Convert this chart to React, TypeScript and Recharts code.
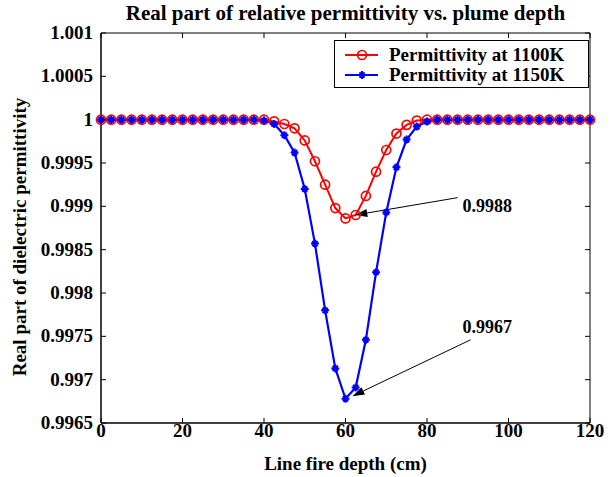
import {
    LineChart,
    Line,
    XAxis,
    YAxis,
    ReferenceArea,
    ReferenceLine,
} from "recharts";

const depth = [
    0, 2.5, 5, 7.5, 10, 12.5, 15, 17.5, 20, 22.5, 25, 27.5, 30, 32.5, 35, 37.5,
    40, 42.5, 45, 47.5, 50, 52.5, 55, 57.5, 60, 62.5, 65, 67.5, 70, 72.5, 75,
    77.5, 80, 82.5, 85, 87.5, 90, 92.5, 95, 97.5, 100, 102.5, 105, 107.5, 110,
    112.5, 115, 117.5, 120,
];

const perm1100 = [
    1, 1, 1, 1, 1, 1, 1, 1, 1, 1, 1, 1, 1, 1, 1, 1,
    1, 0.99998, 0.99995, 0.9999, 0.99976, 0.99952, 0.99925, 0.99898, 0.99886,
    0.9989, 0.99912, 0.9994, 0.99965, 0.99984, 0.99994, 0.99999,
    1, 1, 1, 1, 1, 1, 1, 1, 1, 1, 1, 1, 1, 1, 1, 1, 1,
];

const perm1150 = [
    1, 1, 1, 1, 1, 1, 1, 1, 1, 1, 1, 1, 1, 1, 1, 1,
    0.99999, 0.99995, 0.99982, 0.99962, 0.9992, 0.99857, 0.9978, 0.99713,
    0.99678, 0.99691, 0.99746, 0.99824, 0.99893, 0.99945, 0.99977, 0.99992,
    0.99998, 1, 1, 1, 1, 1, 1, 1, 1, 1, 1, 1, 1, 1, 1, 1, 1,
];

const xTicks = [0, 20, 40, 60, 80, 100, 120];
const yTicks = [
    0.9965, 0.997, 0.9975, 0.998, 0.9985, 0.999, 0.9995, 1, 1.0005, 1.001,
];
const yTickLabels = [
    "0.9965", "0.997", "0.9975", "0.998", "0.9985", "0.999", "0.9995", "1",
    "1.0005", "1.001",
];

// arrow annotations: label point, arrow tail and arrow head (on the curve)
const notes = [
    {
        text: "0.9988",
        at: { x: 88.7, y: 0.99894 },
        from: { x: 87.5, y: 0.9991 },
        to: { x: 62.4, y: 0.9989 },
    },
    {
        text: "0.9967",
        at: { x: 88.7, y: 0.99754 },
        from: { x: 90.7, y: 0.99746 },
        to: { x: 61.7, y: 0.99681 },
    },
];

const data = depth.map((d, i) => ({
    depth: d,
    k1100: perm1100[i],
    k1150: perm1150[i],
}));

const FONT = "'Liberation Serif', 'Times New Roman', serif";
const W = 616;
const H = 477;
const PLOT_TOP = 33;
const PLOT_LEFT = 101;
const PLOT_RIGHT = 590;
const PLOT_BOTTOM = 423;
const X_MAX = 120;
const Y_MIN = 0.9965;
const Y_MAX = 1.001;

// data -> pixel, only for the annotation labels
const px = (x: number) => PLOT_LEFT + (x / X_MAX) * (PLOT_RIGHT - PLOT_LEFT);
const py = (y: number) =>
    PLOT_TOP + ((Y_MAX - y) / (Y_MAX - Y_MIN)) * (PLOT_BOTTOM - PLOT_TOP);

function XTick(props: any) {
    const { x, payload } = props;
    return (
        <g>
            <line x1={x} y1={PLOT_BOTTOM} x2={x} y2={PLOT_BOTTOM - 5} stroke="#000" />
            <line x1={x} y1={PLOT_TOP} x2={x} y2={PLOT_TOP + 5} stroke="#000" />
            <text
                x={x}
                y={PLOT_BOTTOM + 14}
                textAnchor="middle"
                fontFamily={FONT}
                fontWeight="bold"
                fontSize={19}
            >
                {payload.value}
            </text>
        </g>
    );
}

function YTick(props: any) {
    const { y, payload, index } = props;
    return (
        <g>
            <line x1={PLOT_LEFT} y1={y} x2={PLOT_LEFT + 5} y2={y} stroke="#000" />
            <line x1={PLOT_RIGHT} y1={y} x2={PLOT_RIGHT - 5} y2={y} stroke="#000" />
            <text
                x={PLOT_LEFT - 8}
                y={y + 6}
                textAnchor="end"
                fontFamily={FONT}
                fontWeight="bold"
                fontSize={19}
            >
                {yTickLabels[index] ?? payload.value}
            </text>
        </g>
    );
}

function CircleDot(props: any) {
    const { cx, cy } = props;
    if (cx == null || cy == null) return null;
    return (
        <circle cx={cx} cy={cy} r={4.5} fill="none" stroke="#ff0000" strokeWidth={1.7} />
    );
}

function StarDot(props: any) {
    const { cx, cy } = props;
    if (cx == null || cy == null) return null;
    const a = 4;
    const b = 2.6;
    return (
        <path
            d={`M${cx - a},${cy}H${cx + a}M${cx},${cy - a}V${cy + a}M${cx - b},${cy - b}L${cx + b},${cy + b}M${cx - b},${cy + b}L${cx + b},${cy - b}`}
            stroke="#0000ff"
            strokeWidth={2}
            fill="none"
        />
    );
}

function Arrow(props: any, note: (typeof notes)[number]) {
    const { x1, y1, x2, y2 } = props;
    const ang = Math.atan2(y2 - y1, x2 - x1);
    const len = 12;
    const half = 4;
    const bx = x2 - len * Math.cos(ang);
    const by = y2 - len * Math.sin(ang);
    const ox = -Math.sin(ang) * half;
    const oy = Math.cos(ang) * half;
    return (
        <g>
            <line x1={x1} y1={y1} x2={bx} y2={by} stroke="#000" strokeWidth={1} />
            <polygon
                points={`${x2},${y2} ${bx + ox},${by + oy} ${bx - ox},${by - oy}`}
                fill="#000"
            />
            <text
                x={px(note.at.x)}
                y={py(note.at.y)}
                fontFamily={FONT}
                fontWeight="bold"
                fontSize={18}
            >
                {note.text}
            </text>
        </g>
    );
}

function LegendBox() {
    const rows = [
        { label: "Permittivity at 1100K", color: "#ff0000", dot: "circle" },
        { label: "Permittivity at 1150K", color: "#0000ff", dot: "star" },
    ];
    return (
        <div
            style={{
                position: "absolute",
                left: 334,
                top: 40,
                width: 255,
                height: 48,
                border: "1px solid #000",
                background: "#fff",
                boxSizing: "border-box",
                fontFamily: FONT,
                fontWeight: "bold",
                fontSize: 19,
                paddingTop: 4,
            }}
        >
            {rows.map((r) => (
                <div key={r.label} style={{ display: "flex", alignItems: "center", height: 20 }}>
                    <svg width={48} height={14} style={{ marginLeft: 6, flex: "none" }}>
                        <line x1={4} y1={7} x2={37} y2={7} stroke={r.color} strokeWidth={2} />
                        {r.dot === "circle" ? (
                            <circle cx={21} cy={7} r={4.5} fill="none" stroke={r.color} strokeWidth={1.7} />
                        ) : (
                            <path
                                d="M17,7H25M21,3V11M18.4,4.4L23.6,9.6M18.4,9.6L23.6,4.4"
                                stroke={r.color}
                                strokeWidth={2}
                            />
                        )}
                    </svg>
                    <span style={{ whiteSpace: "nowrap" }}>{r.label}</span>
                </div>
            ))}
        </div>
    );
}

export default function App() {
    return (
        <div style={{ position: "absolute", left: 0, top: 0, width: W, height: H, background: "#fff" }}>
            <div
                style={{
                    position: "absolute",
                    left: PLOT_LEFT - 40,
                    width: PLOT_RIGHT - PLOT_LEFT + 80,
                    top: 1,
                    textAlign: "center",
                    fontFamily: FONT,
                    fontWeight: "bold",
                    fontSize: 21,
                    whiteSpace: "nowrap",
                }}
            >
                Real part of relative permittivity vs. plume depth
            </div>

            <LineChart
                width={W}
                height={H}
                data={data}
                margin={{ top: PLOT_TOP, right: W - PLOT_RIGHT, bottom: 0, left: 0 }}
            >
                <XAxis
                    dataKey="depth"
                    type="number"
                    domain={[0, X_MAX]}
                    ticks={xTicks}
                    height={H - PLOT_BOTTOM}
                    tickLine={false}
                    tickSize={0}
                    axisLine={{ stroke: "#000" }}
                    tick={<XTick />}
                    interval={0}
                />
                <YAxis
                    type="number"
                    domain={[Y_MIN, Y_MAX]}
                    ticks={yTicks}
                    width={PLOT_LEFT}
                    tickLine={false}
                    tickSize={0}
                    axisLine={{ stroke: "#000" }}
                    tick={<YTick />}
                    interval={0}
                    allowDataOverflow
                />
                <ReferenceArea
                    x1={0}
                    x2={X_MAX}
                    y1={Y_MIN}
                    y2={Y_MAX}
                    fill="none"
                    stroke="#000"
                    strokeWidth={1}
                    fillOpacity={0}
                />
                <Line
                    dataKey="k1100"
                    stroke="#ff0000"
                    strokeWidth={2}
                    dot={<CircleDot />}
                    activeDot={false}
                    isAnimationActive={false}
                />
                <Line
                    dataKey="k1150"
                    stroke="#0000ff"
                    strokeWidth={2.2}
                    dot={<StarDot />}
                    activeDot={false}
                    isAnimationActive={false}
                />
                {notes.map((n) => (
                    <ReferenceLine
                        key={n.text}
                        segment={[n.from, n.to]}
                        ifOverflow="visible"
                        stroke="#000"
                        shape={(p: any) => Arrow(p, n)}
                    />
                ))}
            </LineChart>

            <LegendBox />

            <div
                style={{
                    position: "absolute",
                    left: PLOT_LEFT,
                    width: PLOT_RIGHT - PLOT_LEFT,
                    top: 453,
                    textAlign: "center",
                    fontFamily: FONT,
                    fontWeight: "bold",
                    fontSize: 19,
                }}
            >
                Line fire depth (cm)
            </div>
            <div
                style={{
                    position: "absolute",
                    left: 20,
                    top: 237,
                    transform: "translate(-50%, -50%) rotate(-90deg)",
                    whiteSpace: "nowrap",
                    fontFamily: FONT,
                    fontWeight: "bold",
                    fontSize: 19,
                }}
            >
                Real part of dielectric permittivity
            </div>
        </div>
    );
}
